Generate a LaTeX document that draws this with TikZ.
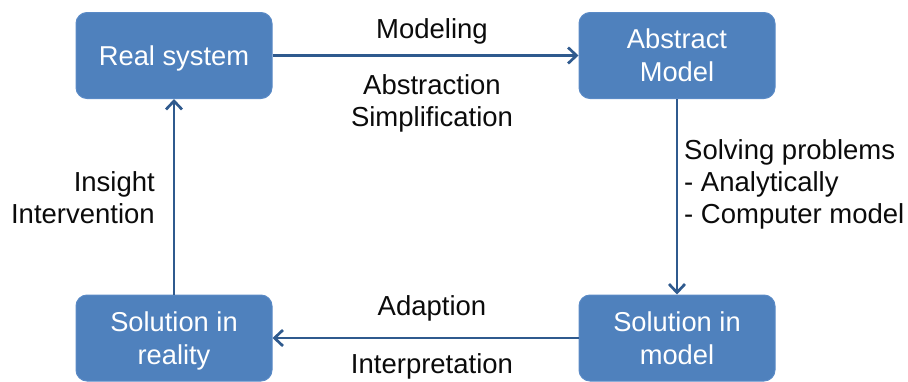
\documentclass[tikz,border=0pt]{standalone}
\usepackage{fontspec}
\setmainfont{Liberation Sans}
\usetikzlibrary{arrows.meta}
\definecolor{boxfill}{HTML}{4F81BD}
\definecolor{boxline}{HTML}{5A8AC6}
\definecolor{flow}{HTML}{2F5A8E}
\definecolor{ink}{HTML}{0B0B0B}
\tikzset{
  >={Straight Barb[length=8.5pt,width=16pt]},
  stage/.style={draw=boxline, fill=boxfill, rounded corners=11pt, align=center,
    text=white, font=\fontsize{27.3}{33}\selectfont, minimum width=196pt,
    minimum height=86pt, line width=1pt, inner sep=2pt, text depth=0pt},
  flowarr/.style={->, draw=flow, line width=2.7pt},
  lbl/.style={font=\fontsize{27.5}{32.2}\selectfont, text=ink, inner sep=0pt},
}

\begin{document}
\begin{tikzpicture}[x=1pt,y=-1pt]
  \useasboundingbox (0,0) rectangle (908,381);
  % ---------------- the four stages ----------------
  \node[stage] (real) at (174,55.5) {Real system};
  \node[stage] (abst) at (677,55.5) {Abstract\\ Model};
  \node[stage] (solm) at (677,338) {Solution in\\ model};
  \node[stage] (solr) at (174,338) {Solution in\\ reality};
  % ---------------- the cycle ----------------
  \draw[flowarr] (real) -- (abst);
  \draw[flowarr] (abst) -- (solm);
  \draw[flowarr] (solm) -- (solr);
  \draw[flowarr] (solr) -- (real);
  % ---------------- labels ----------------
  \node[lbl] (modl) at (432,31) {Modeling};
  \node[lbl, align=center] (simp) at (432,103) {Abstraction\\ Simplification};
  \node[lbl, align=left, anchor=west] (solv) at (684,184.5) {Solving problems\\ - Analytically\\ - Computer model};
  \node[lbl] (adap) at (432,308) {Adaption};
  \node[lbl] (intp) at (432,366) {Interpretation};
  \node[lbl, align=right, anchor=east] (insi) at (155,198) {Insight\\ Intervention};
\end{tikzpicture}
\end{document}
